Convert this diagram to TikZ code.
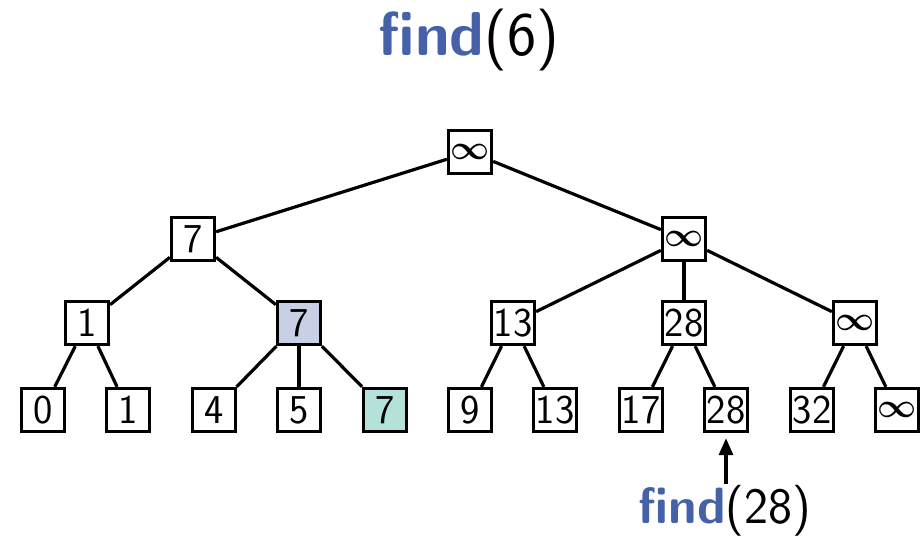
\documentclass[tikz,border=0pt]{standalone}
\usepackage{amsmath}
\usepackage{fontspec}
\usetikzlibrary{arrows.meta}
\definecolor{findblue}{RGB}{69,98,168}
\definecolor{pathblue}{RGB}{201,208,230}
\definecolor{hitteal}{RGB}{180,226,218}
\tikzset{
  tnode/.style={draw, line width=3.3pt, minimum size=43pt, inner sep=0pt,
    font=\fontsize{41}{41}\selectfont\sffamily},
  tedge/.style={line width=3.2pt},
}
\newcommand{\infsym}{\scalebox{3.4}{\normalsize$\boldsymbol{\infty}$}}
\begin{document}
\begin{tikzpicture}[x=1pt,y=-1pt]
\useasboundingbox (0,0) rectangle (922,538);
\node[font=\fontsize{62}{62}\selectfont\sffamily] (title) at (469,40) {\textcolor{findblue}{\textbf{find}}(6)};
% root
\node[tnode] (r) at (470,152) {\infsym};
% level 1
\node[tnode] (a) at (193,239) {7};
\node[tnode] (b) at (684,239) {\infsym};
% level 2
\node[tnode] (a1) at (87,323) {1};
\node[tnode, fill=pathblue] (a2) at (299,323) {7};
\node[tnode] (b1) at (513,323) {13};
\node[tnode] (b2) at (684,323) {28};
\node[tnode] (b3) at (855,323) {\infsym};
% leaves
\node[tnode] (l0) at (43,410) {0};
\node[tnode] (l1) at (128,410) {1};
\node[tnode] (l2) at (214,410) {4};
\node[tnode] (l3) at (299,410) {5};
\node[tnode, fill=hitteal] (l4) at (385,410) {7};
\node[tnode] (l5) at (470,410) {9};
\node[tnode] (l6) at (555,410) {13};
\node[tnode] (l7) at (641,410) {17};
\node[tnode] (l8) at (726,410) {28};
\node[tnode] (l9) at (812,410) {32};
\node[tnode] (l10) at (897,410) {\infsym};
% edges
\draw[tedge] (r) -- (a);
\draw[tedge] (r) -- (b);
\draw[tedge] (a) -- (a1);
\draw[tedge] (a) -- (a2);
\draw[tedge] (b) -- (b1);
\draw[tedge] (b) -- (b2);
\draw[tedge] (b) -- (b3);
\draw[tedge] (a1) -- (l0);
\draw[tedge] (a1) -- (l1);
\draw[tedge] (a2) -- (l2);
\draw[tedge] (a2) -- (l3);
\draw[tedge] (a2) -- (l4);
\draw[tedge] (b1) -- (l5);
\draw[tedge] (b1) -- (l6);
\draw[tedge] (b2) -- (l7);
\draw[tedge] (b2) -- (l8);
\draw[tedge] (b3) -- (l9);
\draw[tedge] (b3) -- (l10);
% find(28)
\node[font=\fontsize{51}{51}\selectfont\sffamily] (q) at (725,511) {\textcolor{findblue}{\textbf{find}}(28)};
\coordinate (qs) at (726,484);
\draw[tedge, -{Stealth[length=17pt,width=14pt,inset=0pt]}] (qs) -- ([yshift=-5pt]l8.south);
\end{tikzpicture}
\end{document}
